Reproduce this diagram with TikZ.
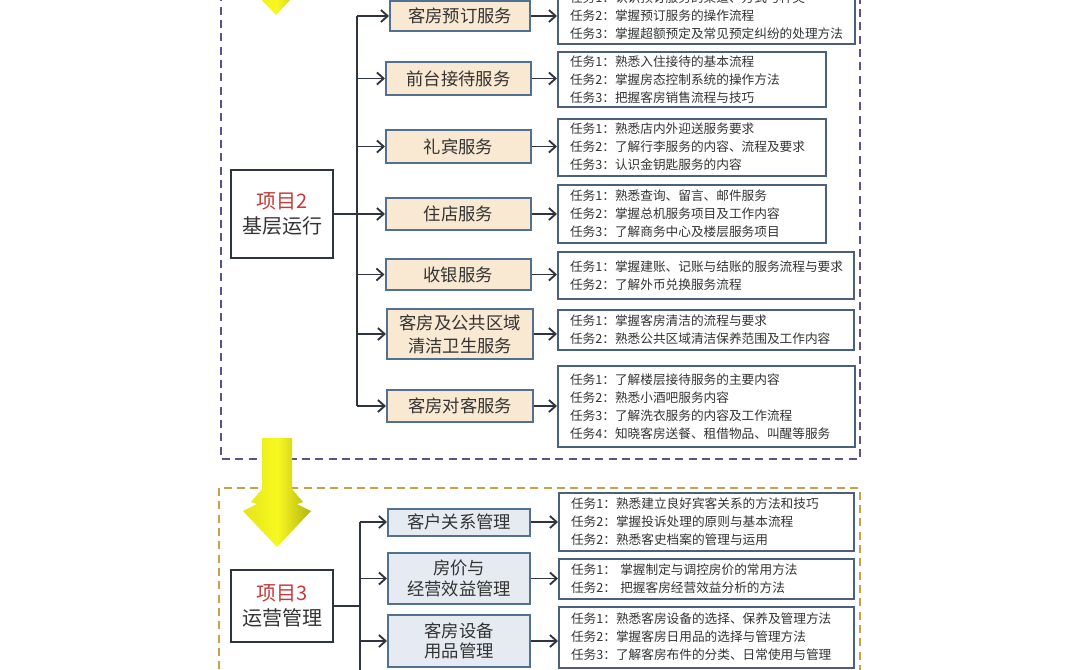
\documentclass[tikz,border=0pt]{standalone}
\usepackage{fontspec}
\setmainfont{Noto Sans CJK SC}
\usetikzlibrary{arrows.meta}
\definecolor{frameP}{HTML}{5E5192}
\definecolor{frameO}{HTML}{C8A048}
\definecolor{taskc}{HTML}{4B5F7E}
\definecolor{svcb}{HTML}{52708F}
\definecolor{beige}{HTML}{F9E8D2}
\definecolor{grayblue}{HTML}{E6EBF2}
\definecolor{linec}{HTML}{2F3540}
\definecolor{txt}{HTML}{333333}
\definecolor{projred}{HTML}{C43C3C}
\definecolor{yelL}{HTML}{E4E41A}
\definecolor{yelM}{HTML}{F8F820}
\definecolor{yelR}{HTML}{B4B412}
\begin{document}
\begin{tikzpicture}[x=0.75pt,y=-0.75pt,
  taskbox/.style={draw=taskc, line width=1.5pt, fill=white, align=left, inner xsep=9pt, inner ysep=0pt, anchor=west, font=\fontsize{9.5}{13.5}\selectfont, text=txt},
  svcA/.style={draw=svcb, line width=1.5pt, fill=beige, align=center, inner sep=0pt, font=\fontsize{13}{17}\selectfont, text=txt},
  svcB/.style={draw=svcb, line width=1.5pt, fill=grayblue, align=center, inner sep=0pt, font=\fontsize{13}{15.5}\selectfont, text=txt},
  proj/.style={draw=linec, line width=1.3pt, fill=white, minimum width=76.5pt, align=center, inner sep=0pt, font=\fontsize{15}{19}\selectfont, text=txt},
  conn/.style={draw=linec, line width=1.4pt},
  arr/.style={conn, -{Straight Barb[length=5pt,width=9pt]}},
  dashP/.style={draw=frameP, line width=1.4pt, dash pattern=on 6pt off 4pt},
  dashO/.style={draw=frameO, line width=1.4pt, dash pattern=on 6pt off 4pt},
  bigarrow/.style={left color=yelL, right color=yelR, middle color=yelM, draw=none}
]
\useasboundingbox (0,0) rectangle (1080,669);
\clip (0,0) rectangle (1080,669);
\fill[white] (0,0) rectangle (1080,669);

% frames
\draw[dashP] (221,-20) rectangle (860,459);
\draw[dashO] (219,488) rectangle (860,700);

% big yellow arrows
\shade[bigarrow] (262,438) -- (262,489) -- (251,502) -- (257,504) -- (243,511) -- (277,547) -- (311,511) -- (297,504) -- (303,502) -- (292,489) -- (292,438) -- cycle;
\begin{scope}[shift={(-1,-532)}]
\shade[bigarrow] (262,438) -- (262,489) -- (251,502) -- (257,504) -- (243,511) -- (277,547) -- (311,511) -- (297,504) -- (303,502) -- (292,489) -- (292,438) -- cycle;
\end{scope}

% project 2
\node[proj, minimum height=66pt] (p2) at (282,214) {\textcolor{projred}{项目2}\\基层运行};
\coordinate (tr2) at (357,0);

\node[svcA, minimum width=105pt, minimum height=22.5pt] (s1) at (460,16) {客房预订服务};
\node[svcA, minimum width=108.75pt, minimum height=24.75pt] (s2) at (458.5,78.5) {前台接待服务};
\node[svcA, minimum width=108.75pt, minimum height=24.75pt] (s3) at (458.5,146.5) {礼宾服务};
\node[svcA, minimum width=108.75pt, minimum height=24pt] (s4) at (458.5,214) {住店服务};
\node[svcA, minimum width=108.75pt, minimum height=23.25pt] (s5) at (458,274.5) {收银服务};
\node[svcA, minimum width=109.5pt, minimum height=37.5pt] (s6) at (460,334) {客房及公共区域\\清洁卫生服务};
\node[svcA, minimum width=109.5pt, minimum height=24pt] (s7) at (460,406) {客房对客服务};

\node[taskbox, text width=204.75pt, minimum height=41.25pt] (t1) at (557,16) {任务1：认识预订服务的渠道、方式与种类\\任务2：掌握预订服务的操作流程\\任务3：掌握超额预定及常见预定纠纷的处理方法};
\node[taskbox, text width=183pt, minimum height=41.25pt] (t2) at (557,79.5) {任务1：熟悉入住接待的基本流程\\任务2：掌握房态控制系统的操作方法\\任务3：把握客房销售流程与技巧};
\node[taskbox, text width=183pt, minimum height=42.75pt] (t3) at (557,147) {任务1：熟悉店内外迎送服务要求\\任务2：了解行李服务的内容、流程及要求\\任务3：认识金钥匙服务的内容};
\node[taskbox, text width=183pt, minimum height=43.5pt] (t4) at (557,214) {任务1：熟悉查询、留言、邮件服务\\任务2：掌握总机服务项目及工作内容\\任务3：了解商务中心及楼层服务项目};
\node[taskbox, text width=204pt, minimum height=35.25pt] (t5) at (557,275.5) {任务1：掌握建账、记账与结账的服务流程与要求\\任务2：了解外币兑换服务流程};
\node[taskbox, text width=204pt, minimum height=30pt] (t6) at (557,329.5) {任务1：掌握客房清洁的流程与要求\\任务2：熟悉公共区域清洁保养范围及工作内容};
\node[taskbox, text width=204.75pt, minimum height=60.75pt] (t7) at (557,406.5) {任务1：了解楼层接待服务的主要内容\\任务2：熟悉小酒吧服务内容\\任务3：了解洗衣服务的内容及工作流程\\任务4：知晓客房送餐、租借物品、叫醒等服务};

\draw[conn] (p2.east) -- (p2.east -| tr2);
\draw[conn] (s1.west -| tr2) -- (s7.west -| tr2);
\foreach \s in {s1,s2,s3,s4,s5,s6,s7}{
  \draw[arr] (\s.west -| tr2) -- (\s.west);
}
\draw[arr] (s1.east) -- (s1.east -| t1.west);
\draw[arr] (s2.east) -- (s2.east -| t2.west);
\draw[arr] (s3.east) -- (s3.east -| t3.west);
\draw[arr] (s4.east) -- (s4.east -| t4.west);
\draw[arr] (s5.east) -- (s5.east -| t5.west);
\draw[arr] (s6.east) -- (s6.east -| t6.west);
\draw[arr] (s7.east) -- (s7.east -| t7.west);

% project 3
\node[proj, minimum height=54pt] (p3) at (282,606) {\textcolor{projred}{项目3}\\运营管理};
\coordinate (tr3) at (360,0);
\coordinate (tr3end) at (360,700);

\node[svcB, minimum width=106.5pt, minimum height=20.25pt] (r1) at (459,522) {客户关系管理};
\node[svcB, minimum width=106.5pt, minimum height=38.25pt] (r2) at (459,578.5) {房价与\\经营效益管理};
\node[svcB, minimum width=106.5pt, minimum height=39pt] (r3) at (459,641) {客房设备\\用品管理};

\node[taskbox, text width=203.25pt, minimum height=43.5pt] (u1) at (558,522) {任务1：熟悉建立良好宾客关系的方法和技巧\\任务2：掌握投诉处理的原则与基本流程\\任务2：熟悉客史档案的管理与运用};
\node[taskbox, text width=203.25pt, minimum height=30pt] (u2) at (558,578.5) {任务1：\ 掌握制定与调控房价的常用方法\\任务2：\ 把握客房经营效益分析的方法};
\node[taskbox, text width=203.25pt, minimum height=45.75pt] (u3) at (558,637) {任务1：熟悉客房设备的选择、保养及管理方法\\任务2：掌握客房日用品的选择与管理方法\\任务3：了解客房布件的分类、日常使用与管理};

\draw[conn] (p3.east) -- (p3.east -| tr3);
\draw[conn] (r1.west -| tr3) -- (tr3end);
\foreach \s in {r1,r2,r3}{
  \draw[arr] (\s.west -| tr3) -- (\s.west);
}
\draw[arr] (r1.east) -- (r1.east -| u1.west);
\draw[arr] (r2.east) -- (r2.east -| u2.west);
\draw[arr] (r3.east) -- (r3.east -| u3.west);
\end{tikzpicture}
\end{document}
